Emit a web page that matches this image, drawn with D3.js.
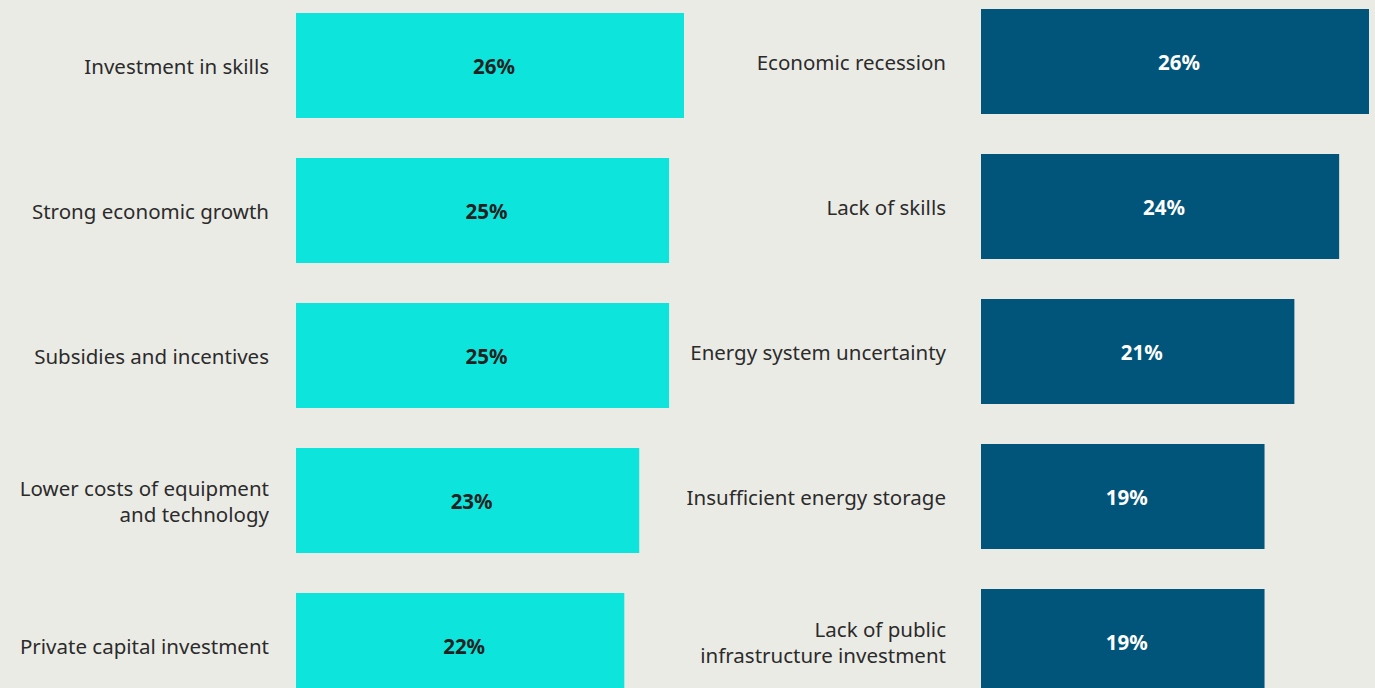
<!DOCTYPE html>
<html>
<head>
<meta charset="utf-8">
<script src="https://cdn.jsdelivr.net/npm/d3@7"></script>
<style>
  body { margin: 0; background: #ebebe6; }
  svg { display: block; }
</style>
</head>
<body>
<svg width="1375" height="688"></svg>
<script>
var driverLabels = [["Investment in skills"], ["Strong economic growth"], ["Subsidies and incentives"],
    ["Lower costs of equipment", "and technology"], ["Private capital investment"]];
var driverValues = [26, 25, 25, 23, 22];

var barrierLabels = [["Economic recession"], ["Lack of skills"], ["Energy system uncertainty"],
    ["Insufficient energy storage"], ["Lack of public", "infrastructure investment"]];
var barrierValues = [26, 24, 21, 19, 19];

var svg = d3.select("svg");

var x = d3.scaleLinear().domain([0, 26]).range([0, 388]);

function panel(labels, values, opts) {
    var y = d3.scaleBand()
        .domain(d3.range(values.length))
        .range([opts.top, opts.top + 685])
        .paddingInner(40 / 145)
        .paddingOuter(0);

    var g = svg.append("g").attr("transform", "translate(" + opts.left + ",0)");

    g.selectAll(".bar")
        .data(values)
        .enter().append("rect")
        .attr("class", "bar")
        .attr("x", 0)
        .attr("y", (d, i) => y(i))
        .attr("width", d => x(d))
        .attr("height", y.bandwidth())
        .attr("fill", opts.color);

    g.selectAll(".value")
        .data(values)
        .enter().append("text")
        .attr("class", "value")
        .attr("x", d => x(d) / 2 + 4)
        .attr("y", (d, i) => y(i) + y.bandwidth() / 2)
        .attr("dy", "0.42em")
        .attr("text-anchor", "middle")
        .attr("font-family", "'Noto Sans', sans-serif")
        .attr("font-weight", "bold")
        .attr("font-size", 20.5)
        .attr("fill", opts.valueColor)
        .text(d => d + "%");

    var lab = g.selectAll(".label")
        .data(labels)
        .enter().append("text")
        .attr("class", "label")
        .attr("text-anchor", "end")
        .attr("font-family", "'Noto Sans', sans-serif")
        .attr("font-size", 20.5)
        .attr("fill", "#2b2b2b")
        .attr("y", (d, i) => y(i) + y.bandwidth() / 2 + 1);

    lab.selectAll("tspan")
        .data(d => d.map((t, k) => ({ t: t, k: k, n: d.length })))
        .enter().append("tspan")
        .attr("x", opts.labelX)
        .attr("dy", d => d.k === 0 ? (0.35 - (d.n - 1) * 0.63) + "em" : "1.26em")
        .text(d => d.t);
}

panel(driverLabels, driverValues, { left: 296, top: 13, labelX: -27, color: "#0de5dc", valueColor: "#222" });
panel(barrierLabels, barrierValues, { left: 981, top: 9, labelX: -35, color: "#02557a", valueColor: "#fff" });
</script>
</body>
</html>
